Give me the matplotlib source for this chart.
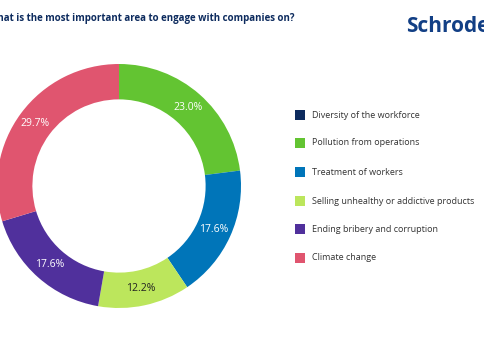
import matplotlib.pyplot as plt

plt.rcParams['font.family'] = ['Open Sans', 'DejaVu Sans']

categories = ['Diversity of the workforce', 'Pollution from operations', 'Treatment of workers',
              'Selling unhealthy or addictive products', 'Ending bribery and corruption', 'Climate change']
shares = [0.0, 23.0, 17.6, 12.2, 17.6, 29.7]
colors = ['#0d2b5e', '#63c432', '#0075b9', '#bce65c', '#50309c', '#e0556f']
label_colors = ['white', 'white', 'white', '#222222', 'white', 'white']

W, H = 485, 360
fig = plt.figure(figsize=(W / 100, H / 100), dpi=100)

# donut axes: centre (119, 186) px, outer radius 122 px
cx, cy, r = 119, 186, 122
ax = fig.add_axes([(cx - r) / W, (H - cy - r) / H, 2 * r / W, 2 * r / H])
wedges, _, autotexts = ax.pie(
    shares, colors=colors, startangle=90, counterclock=False, radius=1.0,
    wedgeprops=dict(width=0.29, edgecolor='none', linewidth=0),
    autopct=lambda p: f'{p:.1f}%' if p > 0.05 else '', pctdistance=0.855,
    textprops=dict(fontsize=7.5))
for t, c in zip(autotexts, label_colors):
    t.set_color(c)
ax.set_xlim(-1, 1)
ax.set_ylim(-1, 1)
ax.set_aspect('equal')
ax.axis('off')

# title (clipped at the left edge like the reference)
fig.text(295 / W, 1 - 18 / H, 'What is the most important area to engage with companies on?',
         ha='right', va='center', fontsize=7.0, fontweight='bold', color='#0d2b5e')
fig.text(406 / W, 1 - 27 / H, 'Schroders', ha='left', va='center', fontsize=15,
         fontweight='bold', color='#123f85')

# legend
leg_y = [115, 143, 172, 201, 229, 258]
for name, col, y in zip(categories, colors, leg_y):
    fig.patches.append(plt.Rectangle((295 / W, (H - y - 5) / H), 10 / W, 10 / H,
                                     transform=fig.transFigure, facecolor=col, edgecolor='none'))
    fig.text(312 / W, 1 - y / H, name, ha='left', va='center', fontsize=6.5, color='#333333')

fig.savefig('out.png', dpi=100, facecolor='white')
